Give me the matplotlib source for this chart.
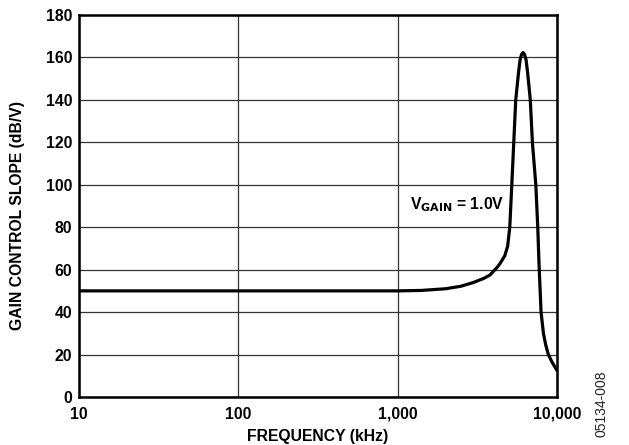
import matplotlib
matplotlib.use("Agg")
import matplotlib.pyplot as plt
from matplotlib.ticker import FixedLocator, NullLocator

freq_khz = [10, 100, 1000, 1400, 2000, 2500, 3000, 3500, 3800, 4200, 4400, 4700,
            4900, 5055, 5205, 5355, 5510, 5730, 5865, 6000, 6125, 6250, 6400,
            6550, 6800, 7010, 7365, 7575, 7720, 7945, 8220, 8500, 8830, 9300, 10000]
slope_db_v = [50, 50, 50, 50.2, 51, 52.2, 54, 56, 57.5, 61, 63, 66.5,
              71, 80, 100, 120, 140, 152.5, 158.8, 161.5, 162.3, 161.5, 158.8,
              152.5, 140, 120, 100, 80, 62, 40, 30, 24.5, 20, 16.5, 12.5]

x_ticks = [10, 100, 1000, 10000]
x_tick_labels = ["10", "100", "1,000", "10,000"]
y_ticks = list(range(0, 181, 20))

plt.rcParams['font.family'] = ['Liberation Sans', 'DejaVu Sans']

FS = 11.3

fig = plt.figure(figsize=(6.29, 4.45), dpi=100)
ax = fig.add_axes([0.1256, 0.1079, 0.8855 - 0.1256, 0.9663 - 0.1079])

ax.plot(freq_khz, slope_db_v, color='black', lw=2.3, solid_capstyle='round',
        solid_joinstyle='round', zorder=3)
ax.set_xscale('log')
ax.set_xlim(10, 10000)
ax.set_ylim(0, 180)
ax.xaxis.set_major_locator(FixedLocator(x_ticks))
ax.xaxis.set_minor_locator(NullLocator())
ax.set_xticks(x_ticks)
ax.set_xticklabels(x_tick_labels)
ax.set_yticks(y_ticks)
ax.grid(True, which='major', color='#333333', lw=0.9)
ax.tick_params(axis='x', length=0, labelsize=FS, pad=7)
ax.tick_params(axis='y', length=0, labelsize=FS, pad=5)
for lbl in ax.get_xticklabels() + ax.get_yticklabels():
    lbl.set_fontweight('bold')
for s in ax.spines.values():
    s.set_linewidth(1.8)
    s.set_zorder(4)

ax.set_xlabel('FREQUENCY (kHz)', fontsize=FS, fontweight='bold', labelpad=5)
ax.set_ylabel('GAIN CONTROL SLOPE (dB/V)', fontsize=FS, fontweight='bold')
ax.yaxis.set_label_coords(-0.112, 0.476)

ax.text(1197, 90.5, r'V$_{\mathbf{GAIN}}$ = 1.0V', fontsize=FS, fontweight='bold',
        ha='left', va='center')
fig.text(0.957, 0.092, '05134-008', rotation=90, fontsize=10, ha='center', va='center',
         color='#222222')

fig.savefig('out.png', dpi=100)
